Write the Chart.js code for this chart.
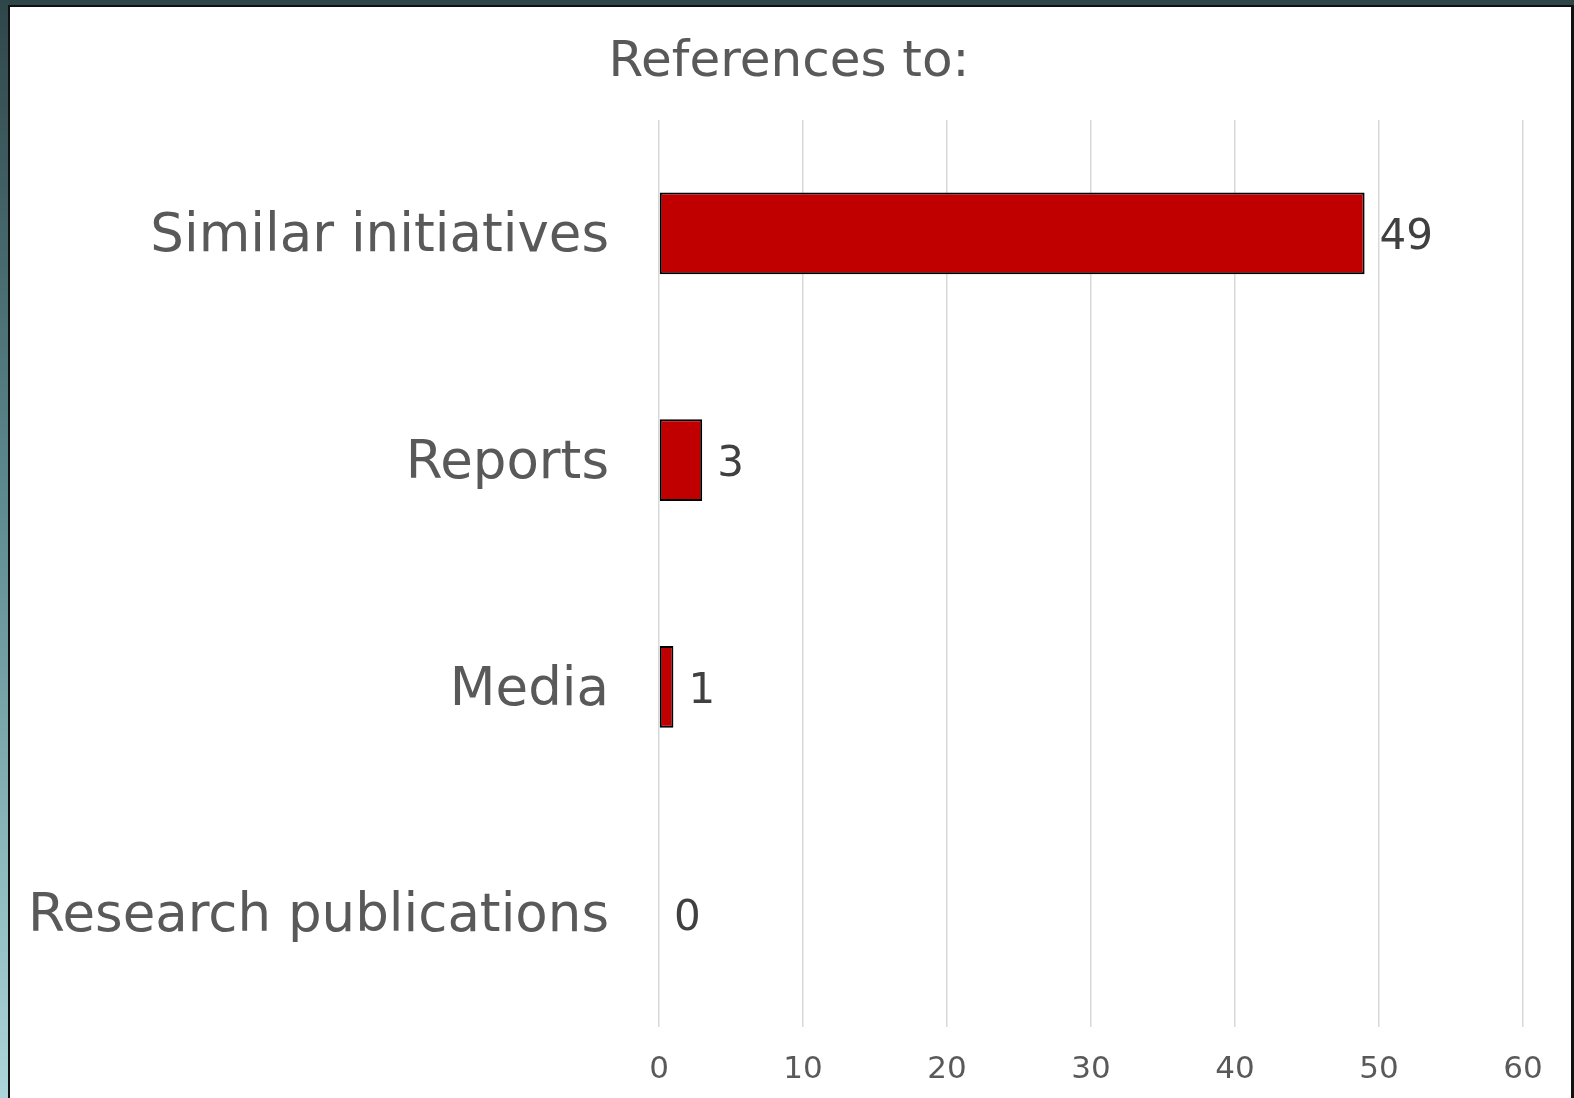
<!DOCTYPE html>
<html>
<head>
<meta charset="utf-8">
<script src="https://cdn.jsdelivr.net/npm/chart.js@4.4.1/dist/chart.umd.min.js"></script>
<style>
    html, body {
        margin: 0;
        padding: 0;
        width: 1574px;
        height: 1098px;
        overflow: hidden;
    }
    body {
        background: linear-gradient(to bottom, #2f4649 0%, #5d8a8f 45%, #acd6d9 100%);
        position: relative;
    }
    .panel {
        position: absolute;
        left: 8px;
        top: 5px;
        width: 1561px;
        height: 1100px;
        background: #fff;
        border-left: 2px solid #111;
        border-top: 2px solid #111;
        border-right: 3px solid #111;
    }
    #chart {
        position: absolute;
        left: 0;
        top: 0;
    }
</style>
</head>
<body>
<div class="panel"></div>
<canvas id="chart" width="1574" height="1098"></canvas>
<script>
// Chart data
const chartTitle = "References to:";
const categories = ["Similar initiatives", "Reports", "Media", "Research publications"];
const counts = [49, 3, 1, 0];
const axisMin = 0;
const axisMax = 60;
const axisStep = 10;

const fontFamily = "'DejaVu Sans', Verdana, sans-serif";
const textGray = "#595959";

// Title sits a bit right of the canvas centre, so it is drawn by hand
const titleText = {
    id: "titleText",
    afterDraw(chart) {
        const ctx = chart.ctx;
        ctx.save();
        ctx.font = "50px " + fontFamily;
        ctx.fillStyle = textGray;
        ctx.textAlign = "center";
        ctx.textBaseline = "middle";
        ctx.fillText(chartTitle, 789, 63);
        ctx.restore();
    }
};

// Draws value labels next to bar ends
const valueLabels = {
    id: "valueLabels",
    afterDatasetsDraw(chart) {
        const ctx = chart.ctx;
        const meta = chart.getDatasetMeta(0);
        ctx.save();
        ctx.font = "42px " + fontFamily;
        ctx.fillStyle = "#404040";
        ctx.textAlign = "left";
        ctx.textBaseline = "middle";
        meta.data.forEach((bar, i) => {
            ctx.fillText(String(counts[i]), bar.x + 15, bar.y + 5);
        });
        ctx.restore();
    }
};

document.addEventListener("DOMContentLoaded", () => {
    const ctx = document.getElementById("chart").getContext("2d");
    new Chart(ctx, {
        type: "bar",
        data: {
            labels: categories,
            datasets: [{
                data: counts,
                backgroundColor: "#c00000",
                borderColor: "#000000",
                borderWidth: 2,
                borderSkipped: false,
                categoryPercentage: 1,
                barPercentage: 0.36,
            }],
        },
        options: {
            indexAxis: "y",
            responsive: false,
            animation: false,
            layout: {
                padding: { top: 120, right: 51, bottom: 0, left: 0 }
            },
            plugins: {
                legend: { display: false },
                tooltip: { enabled: false },
                title: { display: false },
            },
            scales: {
                x: {
                    min: axisMin,
                    max: axisMax,
                    ticks: {
                        stepSize: axisStep,
                        color: textGray,
                        padding: 24,
                        font: { family: fontFamily, size: 31 },
                    },
                    grid: {
                        color: "#d9d9d9",
                        lineWidth: 1.5,
                        drawTicks: false,
                    },
                    border: { display: false },
                    afterFit(scale) {
                        scale.height = 71;
                    },
                },
                y: {
                    ticks: {
                        color: textGray,
                        padding: 0,
                        labelOffset: 4,
                        font: { family: fontFamily, size: 53 },
                    },
                    grid: { display: false, drawTicks: true, tickLength: 50 },
                    border: { display: false },
                    afterFit(scale) {
                        scale.width = 659;
                    },
                },
            },
        },
        plugins: [valueLabels, titleText],
    });
});
</script>
</body>
</html>
